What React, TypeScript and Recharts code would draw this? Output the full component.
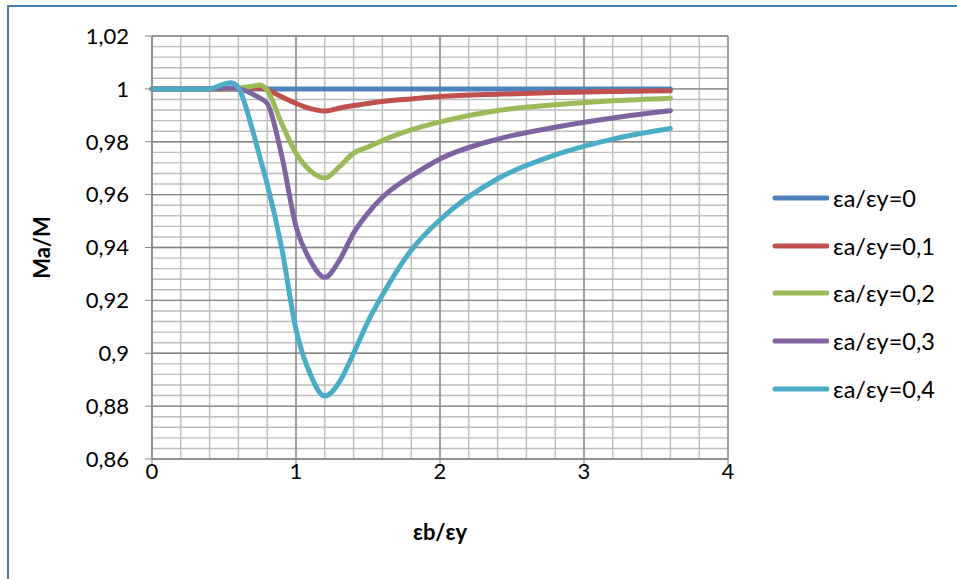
import { LineChart, Line, XAxis, YAxis, CartesianGrid, Legend } from 'recharts';

const xValues = [0, 0.2, 0.4, 0.5, 0.55, 0.6, 0.7, 0.75, 0.8, 0.9, 1.0, 1.1, 1.2, 1.3, 1.4, 1.5, 1.6, 1.8, 2.0, 2.4, 2.8, 3.2, 3.6];

const ratio0 = [1, 1, 1, 1, 1, 1, 1, 1, 1, 1, 1, 1, 1, 1, 1, 1, 1, 1, 1, 1, 1, 1, 1];
const ratio01 = [1, 1, 1, 1, 1, 1, 1.0002, 1.0003, 0.9996, 0.997, 0.9945, 0.9925, 0.9916, 0.9927, 0.9937, 0.9945, 0.9952, 0.9962, 0.9971, 0.998, 0.9986, 0.999, 0.9993];
const ratio02 = [1, 1, 1, 1, 1.0001, 1.0003, 1.001, 1.0015, 0.9995, 0.987, 0.9757, 0.969, 0.9663, 0.9705, 0.9757, 0.978, 0.9805, 0.9845, 0.9875, 0.9918, 0.994, 0.9955, 0.9965];
const ratio03 = [1, 1, 1, 1.0002, 1.0003, 1.0001, 0.998, 0.9965, 0.9945, 0.975, 0.948, 0.935, 0.9287, 0.935, 0.9455, 0.953, 0.959, 0.967, 0.9735, 0.981, 0.9855, 0.989, 0.9917];
const ratio04 = [1, 1, 1, 1.0018, 1.0023, 1.0004, 0.984, 0.974, 0.964, 0.94, 0.909, 0.892, 0.8838, 0.889, 0.9, 0.912, 0.922, 0.939, 0.9505, 0.966, 0.975, 0.981, 0.985];

const seriesNames = ['εa/εy=0', 'εa/εy=0,1', 'εa/εy=0,2', 'εa/εy=0,3', 'εa/εy=0,4'];
const seriesColors = ['#4f81bd', '#c0504d', '#9bbb59', '#8064a2', '#4bacc6'];
const seriesValues = [ratio0, ratio01, ratio02, ratio03, ratio04];

const xTicks = [0, 1, 2, 3, 4];
const yTicks = [0.86, 0.88, 0.9, 0.92, 0.94, 0.96, 0.98, 1, 1.02];
const xMinorTicks = Array.from({ length: 21 }, (_, i) => Math.round(i * 2) / 10);
const yMinorTicks = Array.from({ length: 41 }, (_, i) => Math.round((0.86 + i * 0.004) * 1000) / 1000);

const rows = xValues.map((x, i) => {
  const row: Record<string, number> = { x };
  seriesValues.forEach((s, k) => { row['s' + k] = s[i]; });
  return row;
});

const font = 'Lato, "Open Sans", sans-serif';
const fmt = (v: number) => String(Math.round(v * 100) / 100).replace('.', ',');

function LegendBox({ payload }: any) {
  return (
    <div style={{ fontFamily: font }}>
      {(payload || []).map((p: any) => (
        <div key={p.value} style={{ display: 'flex', alignItems: 'center', height: 47.8 }}>
          <svg width={58} height={10}>
            <line x1={4} x2={56} y1={5} y2={5} stroke={p.color} strokeWidth={5} strokeLinecap="round" />
          </svg>
          <span style={{ marginLeft: 4, fontSize: 23.5, color: '#000' }}>{p.value}</span>
        </div>
      ))}
    </div>
  );
}

export default function App() {
  return (
    <div style={{ position: 'absolute', left: 0, top: 0, width: 957, height: 579, overflow: 'hidden', background: '#fff' }}>
      <div style={{ position: 'absolute', left: 7, top: 5, width: 1000, height: 700, border: '2px solid #4a7ebb' }} />
      <div style={{ position: 'absolute', left: 0, top: 0 }}>
        <LineChart width={957} height={579} data={rows} margin={{ top: 36, right: 229, bottom: 40, left: 32 }} style={{ fontFamily: font }}>
          <XAxis xAxisId="minor" dataKey="x" type="number" domain={[0, 4]} ticks={xMinorTicks} interval={0} allowDataOverflow hide />
          <YAxis yAxisId="minor" type="number" domain={[0.86, 1.02]} ticks={yMinorTicks} interval={0} allowDataOverflow hide />
          <CartesianGrid xAxisId="minor" yAxisId="minor" stroke="#bdbdbd" strokeWidth={1.4} />
          <CartesianGrid stroke="#868686" strokeWidth={1.3} />
          <XAxis
            dataKey="x"
            type="number"
            domain={[0, 4]}
            ticks={xTicks}
            height={80}
            tickSize={7}
            tickMargin={-3}
            axisLine={{ stroke: '#868686' }}
            tickLine={{ stroke: '#868686' }}
            tick={{ fill: '#000', fontSize: 22 }}
            label={{ value: 'εb/εy', position: 'insideBottom', offset: -1, style: { fontWeight: 'bold', fontSize: 22, fill: '#000' } }}
          />
          <YAxis
            type="number"
            domain={[0.86, 1.02]}
            ticks={yTicks}
            width={120}
            tickSize={7}
            tickMargin={16}
            tickFormatter={fmt}
            axisLine={{ stroke: '#868686' }}
            tickLine={{ stroke: '#868686' }}
            tick={{ fill: '#000', fontSize: 22 }}
            label={{ value: 'Ma/M', angle: -90, position: 'insideLeft', offset: 10, style: { textAnchor: 'middle', fontWeight: 'bold', fontSize: 22, fill: '#000' } }}
          />
          <Legend layout="vertical" align="center" verticalAlign="middle" content={<LegendBox />} wrapperStyle={{ left: 771, top: 174, width: 186 }} />
          {seriesNames.map((name, k) => (
            <Line
              key={name}
              dataKey={'s' + k}
              name={name}
              type="monotone"
              stroke={seriesColors[k]}
              strokeWidth={5}
              strokeLinecap="round"
              dot={false}
              activeDot={false}
              isAnimationActive={false}
            />
          ))}
        </LineChart>
      </div>
    </div>
  );
}
